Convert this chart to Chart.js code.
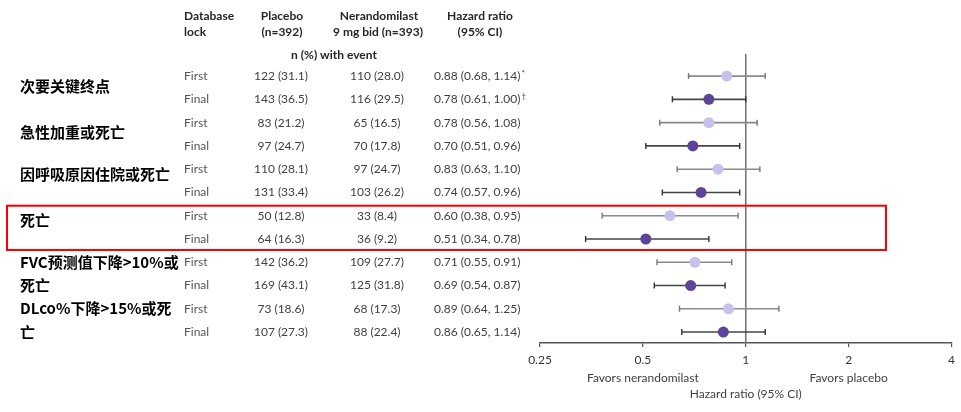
<!DOCTYPE html>
<html>
<head>
<meta charset="utf-8">
<script src="https://cdn.jsdelivr.net/npm/chart.js@4.4.0/dist/chart.umd.min.js"></script>
<style>
  html, body { margin: 0; padding: 0; background: #fff; }
  #wrap { width: 961px; height: 412px; position: relative; }
</style>
</head>
<body>
<div id="wrap"><canvas id="forest"></canvas></div>
<script>
// endpoint groups, two database locks each
const endpoints = [
    ['次要关键终点'],
    ['急性加重或死亡'],
    ['因呼吸原因住院或死亡'],
    ['死亡'],
    ['FVC预测值下降>10%或', '死亡'],
    ['DLco%下降>15%或死', '亡']
];
const locks = ['First', 'Final', 'First', 'Final', 'First', 'Final', 'First', 'Final', 'First', 'Final', 'First', 'Final'];
const placeboN = [122, 143, 83, 97, 110, 131, 50, 64, 142, 169, 73, 107];
const placeboPct = [31.1, 36.5, 21.2, 24.7, 28.1, 33.4, 12.8, 16.3, 36.2, 43.1, 18.6, 27.3];
const nerN = [110, 116, 65, 70, 97, 103, 33, 36, 109, 125, 68, 88];
const nerPct = [28.0, 29.5, 16.5, 17.8, 24.7, 26.2, 8.4, 9.2, 27.7, 31.8, 17.3, 22.4];
const hr = [0.88, 0.78, 0.78, 0.70, 0.83, 0.74, 0.60, 0.51, 0.71, 0.69, 0.89, 0.86];
const ciLow = [0.68, 0.61, 0.56, 0.51, 0.63, 0.57, 0.38, 0.34, 0.55, 0.54, 0.64, 0.65];
const ciHigh = [1.14, 1.00, 1.08, 0.96, 1.10, 0.96, 0.95, 0.78, 0.91, 0.87, 1.25, 1.14];
const hrNote = ['*', '†', '', '', '', '', '', '', '', '', '', ''];
const xTicks = [0.25, 0.5, 1, 2, 4];
const highlightRows = [6, 7];

const LIGHT = '#c6c1ec';
const DARK = '#5d4499';
const TEXT = '#404040';
const latin = 'Lato, "Open Sans", sans-serif';
const cjk = '"Noto Sans CJK SC", sans-serif';

const fmt = (n, p) => n + ' (' + p.toFixed(1) + ')';
const fmt2 = v => v.toFixed(2);

// one line dataset per confidence interval, caps drawn as rotated line points
const ciSets = hr.map((v, i) => ({
    type: 'line',
    data: [{x: ciLow[i], y: i}, {x: ciHigh[i], y: i}],
    borderColor: locks[i] === 'First' ? '#8a8a8a' : '#454545',
    borderWidth: 1.6,
    pointStyle: 'line',
    rotation: 90,
    pointRadius: 3,
    pointBorderWidth: 1.4,
    pointBorderColor: locks[i] === 'First' ? '#777' : '#333',
    fill: false,
    order: 2
}));

const pointSet = {
    type: 'scatter',
    data: hr.map((v, i) => ({x: v, y: i})),
    backgroundColor: locks.map(l => l === 'First' ? LIGHT : DARK),
    borderWidth: 0,
    pointRadius: 5.5,
    order: 0
};

const refLine = {
    id: 'refLine',
    beforeDatasetsDraw(chart) {
        const {ctx, chartArea, scales} = chart;
        const x = scales.x.getPixelForValue(1);
        ctx.save();
        ctx.strokeStyle = '#6e6e6e';
        ctx.lineWidth = 1.5;
        ctx.beginPath();
        ctx.moveTo(x, chartArea.top);
        ctx.lineTo(x, chartArea.bottom);
        ctx.stroke();
        ctx.restore();
    }
};

const tableText = {
    id: 'tableText',
    afterDraw(chart) {
        const {ctx, scales} = chart;
        const y = scales.y;
        const xs = scales.x;
        ctx.save();
        ctx.textBaseline = 'middle';

        // column headers
        ctx.fillStyle = '#262626';
        ctx.font = 'bold 12px ' + latin;
        ctx.textAlign = 'left';
        ctx.fillText('Database', 184, 16);
        ctx.fillText('lock', 184, 32);
        ctx.textAlign = 'center';
        ctx.fillText('Placebo', 282, 16);
        ctx.fillText('(n=392)', 282, 32);
        ctx.fillText('Nerandomilast', 379, 16);
        ctx.fillText('9 mg bid (n=393)', 378, 32);
        ctx.fillText('Hazard ratio', 480, 16);
        ctx.fillText('(95% CI)', 480, 32);
        ctx.fillText('n (%) with event', 334, 55);

        // endpoint labels
        const labelRow = [0.45, 2.4, 4.2, 6.2];
        ctx.fillStyle = '#000';
        ctx.font = 'bold 15px ' + cjk;
        ctx.textAlign = 'left';
        endpoints.forEach((lines, g) => {
            if (lines.length === 1) {
                ctx.fillText(lines[0], 20, y.getPixelForValue(labelRow[g]));
            } else {
                lines.forEach((t, k) => ctx.fillText(t, 20, y.getPixelForValue(2 * g + k)));
            }
        });

        // row values
        ctx.font = '12px ' + latin;
        hr.forEach((v, i) => {
            const py = y.getPixelForValue(i);
            ctx.fillStyle = '#555';
            ctx.textAlign = 'left';
            ctx.fillText(locks[i], 184, py);
            ctx.fillStyle = TEXT;
            ctx.textAlign = 'center';
            ctx.fillText(fmt(placeboN[i], placeboPct[i]), 281, py);
            ctx.fillText(fmt(nerN[i], nerPct[i]), 377, py);
            ctx.textAlign = 'left';
            const s = fmt2(v) + ' (' + fmt2(ciLow[i]) + ', ' + fmt2(ciHigh[i]) + ')';
            ctx.fillText(s, 434, py);
            if (hrNote[i]) {
                const w = ctx.measureText(s).width;
                ctx.font = '8px ' + latin;
                ctx.fillText(hrNote[i], 434 + w + 1, py - 3);
                ctx.font = '12px ' + latin;
            }
        });

        // highlight box
        const top = y.getPixelForValue(highlightRows[0]) - 10;
        const bot = y.getPixelForValue(highlightRows[1]) + 11;
        ctx.strokeStyle = '#ff0000';
        ctx.lineWidth = 2;
        ctx.strokeRect(7, top, 879, bot - top);

        // axis captions
        ctx.fillStyle = TEXT;
        ctx.font = '12px ' + latin;
        ctx.textAlign = 'center';
        ctx.fillText('Favors nerandomilast', xs.getPixelForValue(0.5), 378);
        ctx.fillText('Favors placebo', xs.getPixelForValue(2), 378);
        ctx.fillText('Hazard ratio (95% CI)', xs.getPixelForValue(1), 394);
        ctx.restore();
    }
};

new Chart(document.getElementById('forest'), {
    data: { datasets: [...ciSets, pointSet] },
    options: {
        responsive: true,
        maintainAspectRatio: false,
        animation: false,
        layout: { padding: { left: 540, right: 9, top: 54, bottom: 0 } },
        plugins: { legend: { display: false }, tooltip: { enabled: false } },
        scales: {
            x: {
                type: 'logarithmic',
                min: 0.25,
                max: 4,
                afterBuildTicks: scale => { scale.ticks = xTicks.map(v => ({value: v})); },
                afterFit: scale => { scale.height = 69; },
                ticks: {
                    callback: v => String(v),
                    color: '#333',
                    font: { family: latin, size: 12 },
                    padding: 6,
                    maxRotation: 0,
                    autoSkip: false
                },
                grid: { drawOnChartArea: false, drawTicks: true, tickLength: 4, color: '#555', lineWidth: 1.2 },
                border: { display: true, color: '#555', width: 1.5 }
            },
            y: {
                type: 'linear',
                min: -0.95,
                max: 11.47,
                reverse: true,
                display: false
            }
        }
    },
    plugins: [refLine, tableText]
});
</script>
</body>
</html>
